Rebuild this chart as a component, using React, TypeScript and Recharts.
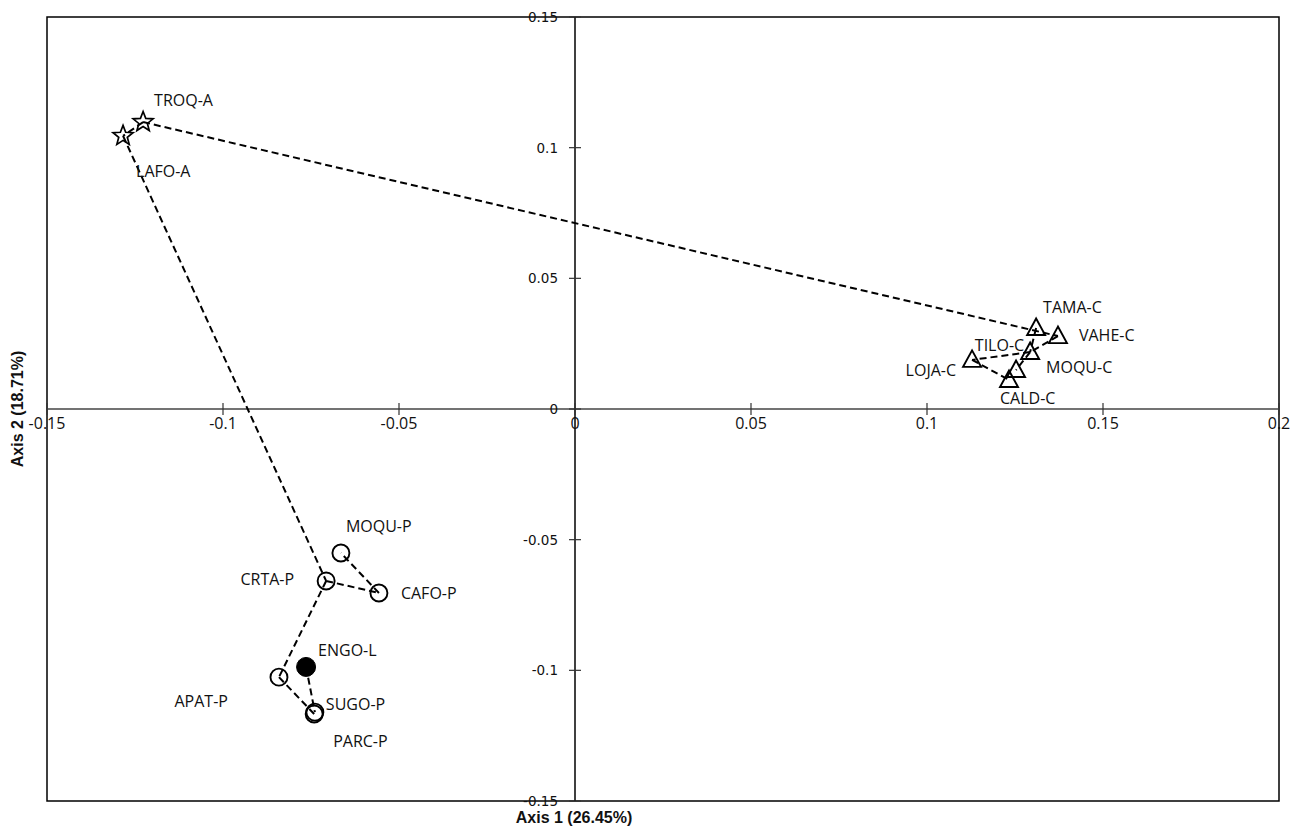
import React from "react"
import { ScatterChart, Scatter, XAxis, YAxis, ReferenceLine, ReferenceDot, ReferenceArea } from "recharts"

// site scores
const starNames = ["TROQ-A", "LAFO-A"]
const starX = [-0.1227, -0.1284]
const starY = [0.1098, 0.1045]

const triNames = ["TAMA-C", "VAHE-C", "TILO-C", "LOJA-C", "MOQU-C", "CALD-C"]
const triX = [0.131, 0.1372, 0.1293, 0.1128, 0.1253, 0.1233]
const triY = [0.031, 0.0279, 0.0218, 0.0188, 0.0149, 0.0111]

const circleNames = ["MOQU-P", "CRTA-P", "CAFO-P", "APAT-P", "SUGO-P", "PARC-P"]
const circleX = [-0.0665, -0.0707, -0.0557, -0.0841, -0.0739, -0.0741]
const circleY = [-0.0551, -0.0658, -0.0704, -0.1026, -0.116, -0.1167]

const filledNames = ["ENGO-L"]
const filledX = [-0.0764]
const filledY = [-0.0987]

// dashed links between sites
const links: [string, string][] = [
  ["TROQ-A", "LAFO-A"],
  ["TROQ-A", "VAHE-C"],
  ["VAHE-C", "TILO-C"],
  ["TAMA-C", "TILO-C"],
  ["TILO-C", "LOJA-C"],
  ["TILO-C", "MOQU-C"],
  ["LOJA-C", "CALD-C"],
  ["LAFO-A", "CRTA-P"],
  ["CRTA-P", "CAFO-P"],
  ["CAFO-P", "MOQU-P"],
  ["CRTA-P", "APAT-P"],
  ["APAT-P", "PARC-P"],
  ["ENGO-L", "SUGO-P"],
]

const xTicks = [-0.15, -0.1, -0.05, 0, 0.05, 0.1, 0.15, 0.2]
const yTicks = [0.15, 0.1, 0.05, 0, -0.05, -0.1, -0.15]

// label placement next to each marker (pixels)
const labelPlace: Record<string, { dx: number; dy: number; anchor: "start" | "end" }> = {
  "TROQ-A": { dx: 11, dy: -22, anchor: "start" },
  "LAFO-A": { dx: 13, dy: 35, anchor: "start" },
  "TAMA-C": { dx: 7, dy: -21, anchor: "start" },
  "VAHE-C": { dx: 21, dy: -1, anchor: "start" },
  "TILO-C": { dx: -6, dy: -7, anchor: "end" },
  "MOQU-C": { dx: 30, dy: -3, anchor: "start" },
  "LOJA-C": { dx: -16, dy: 10, anchor: "end" },
  "CALD-C": { dx: -9, dy: 18, anchor: "start" },
  "MOQU-P": { dx: 5, dy: -27, anchor: "start" },
  "CRTA-P": { dx: -32, dy: -2, anchor: "end" },
  "CAFO-P": { dx: 22, dy: 0, anchor: "start" },
  "ENGO-L": { dx: 12, dy: -17, anchor: "start" },
  "APAT-P": { dx: -51, dy: 24, anchor: "end" },
  "SUGO-P": { dx: 11, dy: -8, anchor: "start" },
  "PARC-P": { dx: 19, dy: 27, anchor: "start" },
}

if (typeof document !== "undefined") {
  document.body.style.margin = "0"
}

const toPoints = (names: string[], xs: number[], ys: number[]) =>
  names.map((name, i) => ({ name, x: xs[i], y: ys[i] }))

const stars = toPoints(starNames, starX, starY)
const triangles = toPoints(triNames, triX, triY)
const circles = toPoints(circleNames, circleX, circleY)
const filled = toPoints(filledNames, filledX, filledY)
const allPoints = [...stars, ...triangles, ...circles, ...filled]
const linkData = links.map(([a, b]) => [
  allPoints.find((p) => p.name === a)!,
  allPoints.find((p) => p.name === b)!,
])

const Label = ({ cx, cy, name }: { cx: number; cy: number; name: string }) => {
  const pl = labelPlace[name]
  return (
    <text
      x={cx + pl.dx}
      y={cy + pl.dy}
      textAnchor={pl.anchor}
      dominantBaseline="central"
      fontFamily="'Open Sans', sans-serif"
      fontSize={16}
      fill="#111"
    >
      {name}
    </text>
  )
}

const starPath = (cx: number, cy: number, ro: number, ri: number) => {
  const pts: string[] = []
  for (let i = 0; i < 10; i++) {
    const r = i % 2 === 0 ? ro : ri
    const a = -Math.PI / 2 + (i * Math.PI) / 5
    pts.push(`${cx + r * Math.cos(a)},${cy + r * Math.sin(a)}`)
  }
  return pts.join(" ")
}

const StarShape = (p: any) => (
  <g>
    <polygon points={starPath(p.cx, p.cy, 10.5, 4.5)} fill="none" stroke="#000" strokeWidth={1.7} />
    <Label cx={p.cx} cy={p.cy} name={p.payload.name} />
  </g>
)

const TriangleShape = (p: any) => (
  <g>
    <polygon
      points={`${p.cx},${p.cy - 9.5} ${p.cx - 9},${p.cy + 7} ${p.cx + 9},${p.cy + 7}`}
      fill="none"
      stroke="#000"
      strokeWidth={1.9}
    />
    <Label cx={p.cx} cy={p.cy} name={p.payload.name} />
  </g>
)

const CircleShape = (p: any) => (
  <g>
    <circle cx={p.cx} cy={p.cy} r={8.5} fill="none" stroke="#000" strokeWidth={1.9} />
    <Label cx={p.cx} cy={p.cy} name={p.payload.name} />
  </g>
)

const FilledShape = (p: any) => (
  <g>
    <circle cx={p.cx} cy={p.cy} r={9.5} fill="#000" stroke="#000" strokeWidth={1} />
    <Label cx={p.cx} cy={p.cy} name={p.payload.name} />
  </g>
)

const XTickMark = (label: string) => (p: any) => (
  <g>
    <line x1={p.cx} y1={p.cy - 6} x2={p.cx} y2={p.cy + 6} stroke="#333" strokeWidth={1.2} />
    <text x={p.cx} y={p.cy + 14} textAnchor="middle" dominantBaseline="central"
      fontFamily="'Open Sans', sans-serif" fontSize={16} fill="#111">
      {label}
    </text>
  </g>
)

const YTickMark = (label: string) => (p: any) => (
  <g>
    <line x1={p.cx - 6} y1={p.cy} x2={p.cx + 6} y2={p.cy} stroke="#333" strokeWidth={1.2} />
    <text x={p.cx - 17} y={p.cy} textAnchor="end" dominantBaseline="central"
      fontFamily="'DejaVu Sans', sans-serif" fontSize={13.5} fill="#111">
      {label}
    </text>
  </g>
)

const titleStyle: React.CSSProperties = {
  position: "absolute",
  fontFamily: "'Liberation Sans', Arial, sans-serif",
  fontWeight: "bold",
  fontSize: 16,
  whiteSpace: "nowrap",
  color: "#111",
  lineHeight: 1,
}

const App = () => {
  return (
    <div style={{ position: "relative", width: 1297, height: 826, overflow: "hidden" }}>
      <ScatterChart width={1297} height={826} margin={{ top: 17, right: 18, bottom: 25, left: 47 }}>
        <XAxis type="number" dataKey="x" domain={[-0.15, 0.2]} allowDataOverflow hide />
        <YAxis type="number" dataKey="y" domain={[-0.15, 0.15]} allowDataOverflow hide />
        <ReferenceArea x1={-0.15} x2={0.2} y1={-0.15} y2={0.15} fill="none" fillOpacity={0}
          stroke="#000" strokeWidth={1.5} ifOverflow="visible" />
        <ReferenceLine y={0} stroke="#444" strokeWidth={1.3} ifOverflow="visible" />
        <ReferenceLine x={0} stroke="#000" strokeWidth={1.5} ifOverflow="visible" />
        {xTicks.map((t) => (
          <ReferenceDot key={"x" + t} x={t} y={0} r={0} ifOverflow="visible" shape={XTickMark(String(t))} />
        ))}
        {yTicks.map((t) => (
          <ReferenceDot key={"y" + t} x={0} y={t} r={0} ifOverflow="visible" shape={YTickMark(String(t))} />
        ))}
        {linkData.map((seg, i) => (
          <Scatter
            key={"link" + i}
            data={seg}
            line={{ stroke: "#000", strokeWidth: 2, strokeDasharray: "7 4" }}
            shape={() => <g />}
            legendType="none"
            isAnimationActive={false}
          />
        ))}
        <Scatter data={stars} shape={StarShape} isAnimationActive={false} />
        <Scatter data={triangles} shape={TriangleShape} isAnimationActive={false} />
        <Scatter data={circles} shape={CircleShape} isAnimationActive={false} />
        <Scatter data={filled} shape={FilledShape} isAnimationActive={false} />
      </ScatterChart>
      <div style={{ ...titleStyle, left: 574, top: 818, transform: "translate(-50%, -50%)" }}>
        Axis 1 (26.45%)
      </div>
      <div style={{ ...titleStyle, left: 18, top: 409, transform: "translate(-50%, -50%) rotate(-90deg)" }}>
        Axis 2 (18.71%)
      </div>
    </div>
  )
}

export default App
